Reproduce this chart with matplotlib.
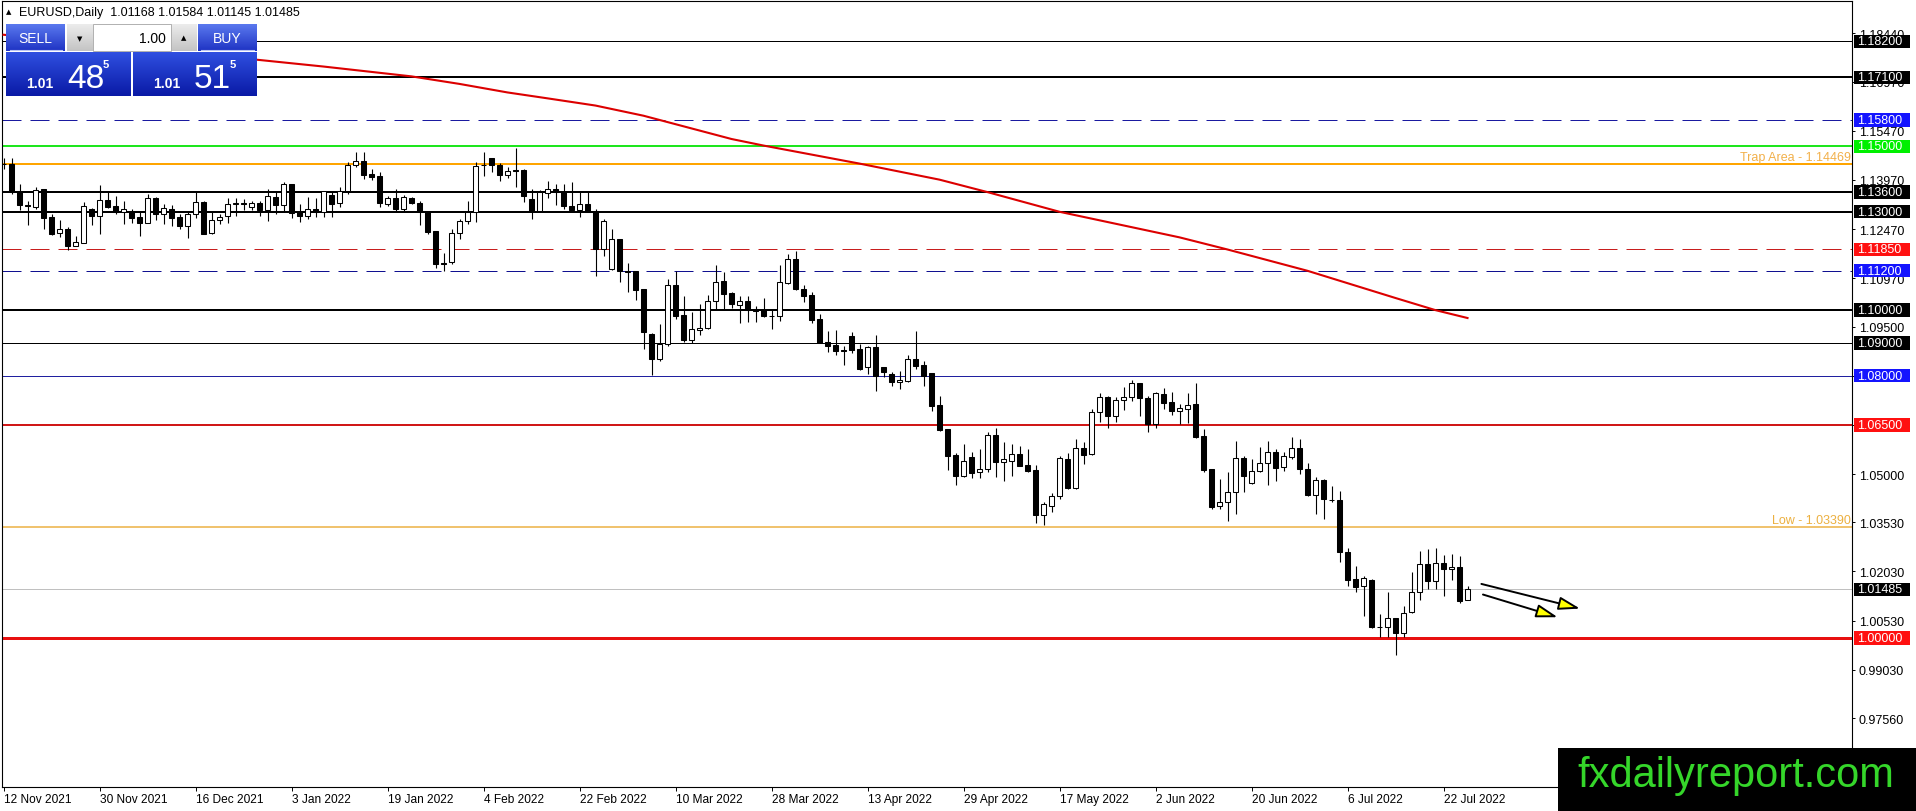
import numpy as np
import matplotlib.pyplot as plt
from matplotlib.patches import Rectangle, FancyArrowPatch
from matplotlib.transforms import blended_transform_factory
from matplotlib.colors import to_rgb

plt.rcParams['font.family'] = ['Liberation Sans', 'DejaVu Sans']

W, H = 1916, 812

# date labels, one every 12 bars
dates = ['12 Nov 2021', '30 Nov 2021', '16 Dec 2021', '3 Jan 2022', '19 Jan 2022',
         '4 Feb 2022', '22 Feb 2022', '10 Mar 2022', '28 Mar 2022', '13 Apr 2022',
         '29 Apr 2022', '17 May 2022', '2 Jun 2022', '20 Jun 2022', '6 Jul 2022',
         '22 Jul 2022']

# daily OHLC
opens = [1.1445, 1.1446, 1.1364, 1.1321, 1.1315, 1.1369, 1.1285, 1.1234, 1.1247, 1.1197,
         1.1205, 1.1310, 1.1288, 1.1335, 1.1317, 1.1300, 1.1298, 1.1283, 1.1267, 1.1341,
         1.1292, 1.1310, 1.1284, 1.1258, 1.1292, 1.1329, 1.1234, 1.1274, 1.1286, 1.1325,
         1.1327, 1.1314, 1.1327, 1.1306, 1.1344, 1.1322, 1.1385, 1.1298, 1.1286, 1.1310,
         1.1300, 1.1351, 1.1326, 1.1364, 1.1443, 1.1454, 1.1415, 1.1408, 1.1323, 1.1341,
         1.1310, 1.1341, 1.1327, 1.1298, 1.1242, 1.1144, 1.1146, 1.1234, 1.1273, 1.1300,
         1.1442, 1.1463, 1.1443, 1.1413, 1.1426, 1.1427, 1.1339, 1.1303, 1.1357, 1.1371,
         1.1361, 1.1319, 1.1306, 1.1323, 1.1303, 1.1188, 1.1125, 1.1217, 1.1120, 1.1118,
         1.1064, 1.0927, 1.0851, 1.0897, 1.1077, 1.0985, 1.0910, 1.0940, 1.0947, 1.1029,
         1.1090, 1.1052, 1.1017, 1.1027, 1.1005, 1.1001, 1.0983, 1.0981, 1.1083, 1.1156,
         1.1063, 1.1046, 1.0973, 1.0902, 1.0894, 1.0877, 1.0920, 1.0881, 1.0826, 1.0887,
         1.0827, 1.0805, 1.0780, 1.0785, 1.0851, 1.0833, 1.0808, 1.0711, 1.0637, 1.0558,
         1.0495, 1.0551, 1.0505, 1.0517, 1.0619, 1.0538, 1.0541, 1.0561, 1.0528, 1.0512,
         1.0376, 1.0402, 1.0432, 1.0546, 1.0459, 1.0581, 1.0561, 1.0688, 1.0734, 1.0678,
         1.0727, 1.0734, 1.0778, 1.0731, 1.0653, 1.0744, 1.0719, 1.0693, 1.0700, 1.0714,
         1.0615, 1.0515, 1.0403, 1.0414, 1.0444, 1.0549, 1.0472, 1.0508, 1.0533, 1.0566,
         1.0521, 1.0551, 1.0579, 1.0517, 1.0437, 1.0482, 1.0422, 1.0421, 1.0261, 1.0180,
         1.0159, 1.0177, 1.0035, 1.0033, 1.0060, 1.0014, 1.0080, 1.0139, 1.0226, 1.0175,
         1.0228, 1.0210, 1.0218, 1.01168]
highs = [1.1465, 1.1463, 1.1384, 1.1333, 1.1375, 1.1371, 1.1292, 1.1275, 1.1255, 1.1227,
         1.1329, 1.1312, 1.1382, 1.1359, 1.1347, 1.1333, 1.1310, 1.1298, 1.1354, 1.1344,
         1.1323, 1.1321, 1.1293, 1.1300, 1.1359, 1.1334, 1.1303, 1.1292, 1.1341, 1.1341,
         1.1339, 1.1334, 1.1334, 1.1369, 1.1359, 1.1390, 1.1385, 1.1324, 1.1344, 1.1341,
         1.1364, 1.1364, 1.1375, 1.1451, 1.1481, 1.1481, 1.1432, 1.1420, 1.1347, 1.1369,
         1.1351, 1.1344, 1.1334, 1.1298, 1.1242, 1.1174, 1.1249, 1.1278, 1.1334, 1.1451,
         1.1483, 1.1463, 1.1449, 1.1436, 1.1494, 1.1430, 1.1369, 1.1367, 1.1395, 1.1385,
         1.1385, 1.1390, 1.1364, 1.1364, 1.1310, 1.1278, 1.1249, 1.1217, 1.1144, 1.1118,
         1.1064, 1.0930, 1.0958, 1.1095, 1.1120, 1.1044, 1.0993, 1.1018, 1.1046, 1.1138,
         1.1117, 1.1054, 1.1044, 1.1044, 1.1013, 1.1036, 1.1004, 1.1138, 1.1171, 1.1181,
         1.1077, 1.1054, 1.0988, 1.0937, 1.0940, 1.0892, 1.0932, 1.0897, 1.0892, 1.0924,
         1.0827, 1.0812, 1.0815, 1.0863, 1.0937, 1.0846, 1.0808, 1.0739, 1.0637, 1.0564,
         1.0592, 1.0566, 1.0576, 1.0629, 1.0640, 1.0597, 1.0592, 1.0587, 1.0576, 1.0528,
         1.0416, 1.0442, 1.0556, 1.0564, 1.0607, 1.0597, 1.0698, 1.0747, 1.0739, 1.0734,
         1.0765, 1.0787, 1.0778, 1.0739, 1.0749, 1.0762, 1.0749, 1.0714, 1.0747, 1.0777,
         1.0639, 1.0515, 1.0485, 1.0505, 1.0602, 1.0554, 1.0546, 1.0582, 1.0602, 1.0578,
         1.0568, 1.0612, 1.0607, 1.0534, 1.0490, 1.0485, 1.0463, 1.0449, 1.0276, 1.0219,
         1.0190, 1.0180, 1.0073, 1.0139, 1.0060, 1.0099, 1.0200, 1.0266, 1.0271, 1.0276,
         1.0253, 1.0256, 1.0251, 1.01584]
lows = [1.1432, 1.1354, 1.1306, 1.1261, 1.1310, 1.1247, 1.1230, 1.1224, 1.1183, 1.1196,
        1.1205, 1.1260, 1.1232, 1.1313, 1.1293, 1.1263, 1.1265, 1.1227, 1.1265, 1.1276,
        1.1263, 1.1256, 1.1249, 1.1221, 1.1280, 1.1232, 1.1232, 1.1262, 1.1266, 1.1288,
        1.1306, 1.1306, 1.1288, 1.1273, 1.1293, 1.1303, 1.1280, 1.1270, 1.1278, 1.1283,
        1.1283, 1.1283, 1.1314, 1.1354, 1.1436, 1.1400, 1.1398, 1.1314, 1.1319, 1.1303,
        1.1303, 1.1324, 1.1260, 1.1232, 1.1130, 1.1120, 1.1141, 1.1217, 1.1263, 1.1268,
        1.1410, 1.1420, 1.1395, 1.1402, 1.1375, 1.1329, 1.1278, 1.1300, 1.1341, 1.1321,
        1.1310, 1.1306, 1.1283, 1.1300, 1.1105, 1.1164, 1.1122, 1.1087, 1.1056, 1.1032,
        1.0883, 1.0802, 1.0846, 1.0891, 1.0973, 1.0902, 1.0900, 1.0924, 1.0942, 1.1001,
        1.1003, 1.1008, 1.0961, 1.0963, 1.0965, 1.0978, 1.0943, 1.0968, 1.1080, 1.1060,
        1.1026, 1.0961, 1.0899, 1.0873, 1.0863, 1.0833, 1.0869, 1.0818, 1.0805, 1.0754,
        1.0795, 1.0768, 1.0761, 1.0782, 1.0822, 1.0770, 1.0693, 1.0632, 1.0513, 1.0467,
        1.0490, 1.0488, 1.0488, 1.0505, 1.0490, 1.0480, 1.0493, 1.0524, 1.0507, 1.0351,
        1.0345, 1.0385, 1.0424, 1.0456, 1.0456, 1.0531, 1.0558, 1.0660, 1.0642, 1.0660,
        1.0696, 1.0724, 1.0678, 1.0627, 1.0640, 1.0700, 1.0680, 1.0653, 1.0656, 1.0610,
        1.0505, 1.0395, 1.0393, 1.0358, 1.0378, 1.0444, 1.0470, 1.0505, 1.0468, 1.0480,
        1.0510, 1.0546, 1.0500, 1.0434, 1.0378, 1.0363, 1.0416, 1.0233, 1.0160, 1.0141,
        1.0068, 1.0030, 1.0002, 1.0002, 0.9948, 1.0002, 1.0076, 1.0117, 1.0149, 1.0151,
        1.0127, 1.0178, 1.0106, 1.01145]
closes = [1.1447, 1.1359, 1.1321, 1.1318, 1.1367, 1.1280, 1.1232, 1.1247, 1.1197, 1.1207,
          1.1317, 1.1288, 1.1335, 1.1316, 1.1300, 1.1310, 1.1282, 1.1267, 1.1341, 1.1292,
          1.1313, 1.1282, 1.1258, 1.1292, 1.1329, 1.1232, 1.1274, 1.1285, 1.1325, 1.1327,
          1.1323, 1.1326, 1.1306, 1.1347, 1.1322, 1.1385, 1.1296, 1.1286, 1.1310, 1.1300,
          1.1364, 1.1324, 1.1364, 1.1443, 1.1454, 1.1413, 1.1405, 1.1326, 1.1341, 1.1310,
          1.1344, 1.1326, 1.1300, 1.1239, 1.1142, 1.1142, 1.1234, 1.1273, 1.1300, 1.1441,
          1.1443, 1.1443, 1.1412, 1.1423, 1.1425, 1.1347, 1.1303, 1.1359, 1.1371, 1.1359,
          1.1319, 1.1306, 1.1323, 1.1300, 1.1188, 1.1271, 1.1217, 1.1118, 1.1115, 1.1062,
          1.0932, 1.0851, 1.0897, 1.1077, 1.0983, 1.0910, 1.0942, 1.0947, 1.1029, 1.1087,
          1.1049, 1.1019, 1.1027, 1.1001, 1.0998, 1.0981, 1.0982, 1.1085, 1.1156, 1.1063,
          1.1044, 1.0971, 1.0899, 1.0892, 1.0876, 1.0876, 1.0879, 1.0822, 1.0887, 1.0800,
          1.0812, 1.0780, 1.0787, 1.0851, 1.0829, 1.0800, 1.0709, 1.0634, 1.0556, 1.0495,
          1.0541, 1.0503, 1.0517, 1.0619, 1.0538, 1.0546, 1.0561, 1.0526, 1.0510, 1.0376,
          1.0409, 1.0432, 1.0548, 1.0459, 1.0581, 1.0558, 1.0688, 1.0734, 1.0678, 1.0727,
          1.0734, 1.0778, 1.0731, 1.0653, 1.0747, 1.0716, 1.0693, 1.0703, 1.0712, 1.0614,
          1.0513, 1.0400, 1.0414, 1.0444, 1.0549, 1.0493, 1.0508, 1.0533, 1.0566, 1.0520,
          1.0554, 1.0579, 1.0517, 1.0437, 1.0482, 1.0424, 1.0421, 1.0261, 1.0178, 1.0156,
          1.0182, 1.0034, 1.0034, 1.0060, 1.0014, 1.0075, 1.0139, 1.0226, 1.0175, 1.0228,
          1.0212, 1.0218, 1.0114, 1.01485]

# 200-day moving average (bar index, price)
ma_bars = [0, 32, 40, 51, 57, 63, 68, 74, 80, 91, 95, 107, 117, 123, 132, 147, 153, 163, 174, 179, 183]
ma_vals = [1.1840, 1.1763, 1.1743, 1.1713, 1.1690, 1.1664, 1.1646, 1.1624, 1.1593, 1.1522,
           1.1502, 1.1447, 1.1398, 1.1360, 1.1300, 1.1222, 1.1185, 1.1120, 1.1037, 1.1000, 1.0976]

# horizontal levels
levels = [1.182, 1.171, 1.158, 1.150, 1.14469, 1.136, 1.130, 1.1185, 1.112,
          1.100, 1.090, 1.080, 1.065, 1.0339, 1.01485, 1.000]
level_colors = ['black', 'black', '#1a1aa0', '#1ee61e', '#ffa500', 'black', 'black', '#c81e1e',
                '#101090', 'black', 'black', '#2020a0', '#d01818', '#ecb040', '#c0c0c0', '#e81010']
level_px = [1, 2, 1, 2, 2, 2, 2, 1, 1, 2, 1, 1, 2, 1.5, 1, 3]
level_dashed = [False, False, True, False, False, False, False, True, True,
                False, False, False, False, False, False, False]

# labelled price tags on the right axis
tag_levels = [1.182, 1.171, 1.158, 1.150, 1.136, 1.130, 1.1185, 1.112,
              1.100, 1.090, 1.080, 1.065, 1.01485, 1.000]
tag_colors = ['black', 'black', '#1414ff', '#00f000', 'black', 'black', '#ff1010', '#1414ff',
              'black', 'black', '#1414ff', '#ff1010', 'black', '#ff1010']

yticks = [1.18440, 1.16970, 1.15470, 1.13970, 1.12470, 1.10970, 1.09500, 1.08000,
          1.06500, 1.05000, 1.03530, 1.02030, 1.00530, 0.99030, 0.97560]

note_levels = [1.14469, 1.0339]
note_texts = ['Trap Area - 1.14469', 'Low - 1.03390']
note_colors = ['#f2b04a', '#ecb040']

arrow_from = [(184.4, 1.01670), (184.6, 1.01351)]
arrow_to = [(197.4, 1.00877), (194.6, 1.00610)]

fig = plt.figure(figsize=(W / 100, H / 100), dpi=100, facecolor='white')
ax = fig.add_axes([2 / W, (H - 788) / H, 1850 / W, 786 / H])
ax.set_facecolor('white')

o = np.array(opens)
hi = np.array(highs)
lo = np.array(lows)
c = np.array(closes)
x = np.arange(len(o))
up = c >= o

for p, col, px, dsh in zip(levels, level_colors, level_px, level_dashed):
    ax.axhline(p, color=col, lw=px * 0.72, zorder=2,
               linestyle=(0, (19, 9)) if dsh else '-')

ax.vlines(x, lo, hi, color='black', lw=0.8, zorder=3)
ax.bar(x, np.abs(c - o), bottom=np.minimum(o, c), width=0.55,
       color=np.where(up, 'white', 'black'), edgecolor='black', linewidth=0.75, zorder=4)

ax.plot(ma_bars, ma_vals, color='#dc0000', lw=1.5, zorder=5)

for a0, a1 in zip(arrow_from, arrow_to):
    ax.add_patch(FancyArrowPatch(a0, a1, arrowstyle='-|>,head_length=1.3,head_width=0.4',
                                 mutation_scale=10, fc='#ffff00', ec='black', lw=1.4, zorder=6))

ax.set_xlim(-0.1875, 231.06)
ax.set_ylim(0.95456, 1.19429)

ax.yaxis.tick_right()
ax.set_yticks(yticks)
ax.set_yticklabels([f'{v:.5f}' for v in yticks])
ax.tick_params(axis='y', length=2.2, width=0.7, pad=2.8, labelsize=9, colors='black')
ax.set_xticks(np.arange(len(dates)) * 12)
ax.set_xticklabels(dates, ha='left')
ax.tick_params(axis='x', length=3, width=0.7, pad=1.5, labelsize=8.6)
for s in ax.spines.values():
    s.set_linewidth(0.8)
    s.set_color('black')

trans = blended_transform_factory(ax.transAxes, ax.transData)
fx = lambda px: (px - 2) / 1850.0
box_h = 13.3 / 3278.6
for p, col in zip(tag_levels, tag_colors):
    ax.add_patch(Rectangle((fx(1854), p - box_h / 2), 56 / 1850.0, box_h, transform=trans,
                           facecolor=col, edgecolor='none', clip_on=False, zorder=7))
    ax.text(fx(1857), p, f'{p:.5f}', transform=trans, ha='left', va='center',
            color='white', fontsize=9, clip_on=False, zorder=8)

for p, t, col in zip(note_levels, note_texts, note_colors):
    ax.text(fx(1850.5), p + 0.0003, t, transform=trans, ha='right', va='bottom',
            color=col, fontsize=9, zorder=6)

# overlay in pixel coordinates: header, trade panel, watermark
ov = fig.add_axes([0, 0, 1, 1], zorder=10)
ov.patch.set_visible(False)


def grad_box(x0, y0, x1, y1, top, bottom):
    t = np.linspace(0, 1, 32)[:, None, None]
    img = (1 - t) * np.array(to_rgb(top)) + t * np.array(to_rgb(bottom))
    ov.imshow(img, extent=(x0, x1, y1, y0), aspect='auto', interpolation='bilinear', zorder=2)


ov.add_patch(Rectangle((6, 25), 251, 72, facecolor='white', edgecolor='none', zorder=1))
grad_box(6, 25, 65, 52, '#5a78ee', '#1f34c4')
grad_box(198, 25, 257, 52, '#5a78ee', '#1f34c4')
grad_box(67, 25, 93, 52, '#ececec', '#c4c4c4')
grad_box(171, 25, 197, 52, '#ececec', '#c4c4c4')
ov.add_patch(Rectangle((93, 25), 78, 27, facecolor='white', edgecolor='#b0b0b0', lw=0.7, zorder=3))
grad_box(6, 53, 131, 97, '#2f4fe0', '#0a1aa6')
grad_box(133, 53, 257, 97, '#2f4fe0', '#0a1aa6')
ov.plot([10, 62], [51, 51], color='#b8c4f4', lw=0.8, zorder=4)
ov.plot([201, 254], [51, 51], color='#b8c4f4', lw=0.8, zorder=4)

ov.text(35.5, 39, 'SELL', color='white', fontsize=10, ha='center', va='center', zorder=5)
ov.text(227.5, 39, 'BUY', color='white', fontsize=10, ha='center', va='center', zorder=5)
ov.text(80, 39, '▼', color='black', fontsize=5, ha='center', va='center',
        family=['DejaVu Sans'], zorder=5)
ov.text(184, 38, '▲', color='black', fontsize=5, ha='center', va='center',
        family=['DejaVu Sans'], zorder=5)
ov.text(166, 39, '1.00', color='black', fontsize=10, ha='right', va='center', zorder=5)

for bx, big in [(0, '48'), (127, '51')]:
    ov.text(26 + bx, 87.5, '1.01', color='white', fontsize=10, fontweight='bold',
            ha='left', va='baseline', zorder=5)
    ov.text(67 + bx, 87.5, big, color='white', fontsize=24, ha='left', va='baseline', zorder=5)
    ov.text(103 + bx, 68.5, '5', color='white', fontsize=8, fontweight='bold',
            ha='left', va='baseline', zorder=5)

ov.text(6, 12.5, '▲', color='black', fontsize=5, ha='left', va='center',
        family=['DejaVu Sans'], zorder=5)
ov.text(19, 12.7, 'EURUSD,Daily  1.01168 1.01584 1.01145 1.01485', color='black',
        fontsize=9, ha='left', va='center', zorder=5)

ov.add_patch(Rectangle((1558, 749), W - 1558, H - 749, facecolor='black',
                       edgecolor='none', zorder=6))
ov.text(1736, 776, 'fxdailyreport.com', color='#35d62a', fontsize=30,
        ha='center', va='center', zorder=7)

ov.set_xlim(0, W)
ov.set_ylim(H, 0)
ov.axis('off')

fig.savefig('out.png', dpi=100, facecolor='white')
